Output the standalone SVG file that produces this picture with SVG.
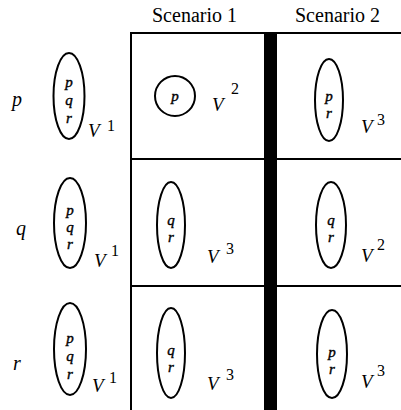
<svg xmlns="http://www.w3.org/2000/svg" width="401" height="410" viewBox="0 0 401 410">
<style>
.ln{stroke:#000;stroke-width:2;fill:none}
.el{stroke:#000;stroke-width:2;fill:none}
.t{font-family:"Liberation Serif",serif;font-style:italic;font-size:15px;text-anchor:middle;fill:#000;stroke:#000;stroke-width:0.4}
.v{font-family:"Liberation Serif",serif;font-style:italic;font-size:19px;fill:#000}
.s{font-family:"Liberation Serif",serif;font-size:16px;fill:#000}
.row{font-family:"Liberation Serif",serif;font-style:italic;font-size:20px;fill:#000}
.hd{font-family:"Liberation Serif",serif;font-size:20px;fill:#000}
</style>
<g id="connectors">
<line class="ln" x1="131" y1="33" x2="401" y2="33"/>
<line class="ln" x1="131" y1="32" x2="131" y2="410"/>
<line class="ln" x1="131" y1="159" x2="401" y2="159"/>
<line class="ln" x1="131" y1="286" x2="401" y2="286"/>
<rect x="264" y="32" width="13" height="378" fill="#000"/>
</g>
<g id="headers">
<text class="hd" x="152" y="22">Scenario 1</text>
<text class="hd" x="295" y="22">Scenario 2</text>
</g>
<g id="rowlabels">
<text class="row" x="12" y="106">p</text>
<text class="row" x="16" y="235">q</text>
<text class="row" x="13" y="370">r</text>
</g>
<g id="r1c0">
<ellipse class="el" cx="69" cy="96" rx="15.5" ry="43"/>
<text class="t" x="69" y="87">p</text>
<text class="t" x="69" y="105">q</text>
<text class="t" x="69" y="123">r</text>
<text class="v" x="88" y="137">V</text><text class="s" x="107" y="131">1</text>
</g>
<g id="r1c1">
<circle class="el" cx="175" cy="96" r="20"/>
<text class="t" x="175" y="101">p</text>
<text class="v" x="212" y="111">V</text><text class="s" x="231" y="94">2</text>
</g>
<g id="r1c2">
<ellipse class="el" cx="329" cy="100" rx="14" ry="41"/>
<text class="t" x="329" y="101">p</text>
<text class="t" x="329" y="118">r</text>
<text class="v" x="361" y="133">V</text><text class="s" x="377" y="125">3</text>
</g>
<g id="r2c0">
<ellipse class="el" cx="70" cy="223" rx="16" ry="45"/>
<text class="t" x="70" y="215">p</text>
<text class="t" x="70" y="232">q</text>
<text class="t" x="70" y="249">r</text>
<text class="v" x="94" y="267">V</text><text class="s" x="111" y="256">1</text>
</g>
<g id="r2c1">
<ellipse class="el" cx="171" cy="225" rx="14" ry="43"/>
<text class="t" x="171" y="225">q</text>
<text class="t" x="171" y="242">r</text>
<text class="v" x="207" y="263">V</text><text class="s" x="226" y="254">3</text>
</g>
<g id="r2c2">
<ellipse class="el" cx="331" cy="225" rx="15" ry="43"/>
<text class="t" x="331" y="225">q</text>
<text class="t" x="331" y="242">r</text>
<text class="v" x="361" y="262">V</text><text class="s" x="377" y="250">2</text>
</g>
<g id="r3c0">
<ellipse class="el" cx="70" cy="349" rx="16" ry="46"/>
<text class="t" x="70" y="343">p</text>
<text class="t" x="70" y="361">q</text>
<text class="t" x="70" y="379">r</text>
<text class="v" x="92" y="392">V</text><text class="s" x="109" y="383">1</text>
</g>
<g id="r3c1">
<ellipse class="el" cx="171" cy="353" rx="14" ry="45"/>
<text class="t" x="171" y="355">q</text>
<text class="t" x="171" y="372">r</text>
<text class="v" x="207" y="390">V</text><text class="s" x="226" y="380">3</text>
</g>
<g id="r3c2">
<ellipse class="el" cx="332" cy="354" rx="15" ry="44"/>
<text class="t" x="332" y="357">p</text>
<text class="t" x="332" y="374">r</text>
<text class="v" x="361" y="388">V</text><text class="s" x="377" y="376">3</text>
</g>
</svg>
